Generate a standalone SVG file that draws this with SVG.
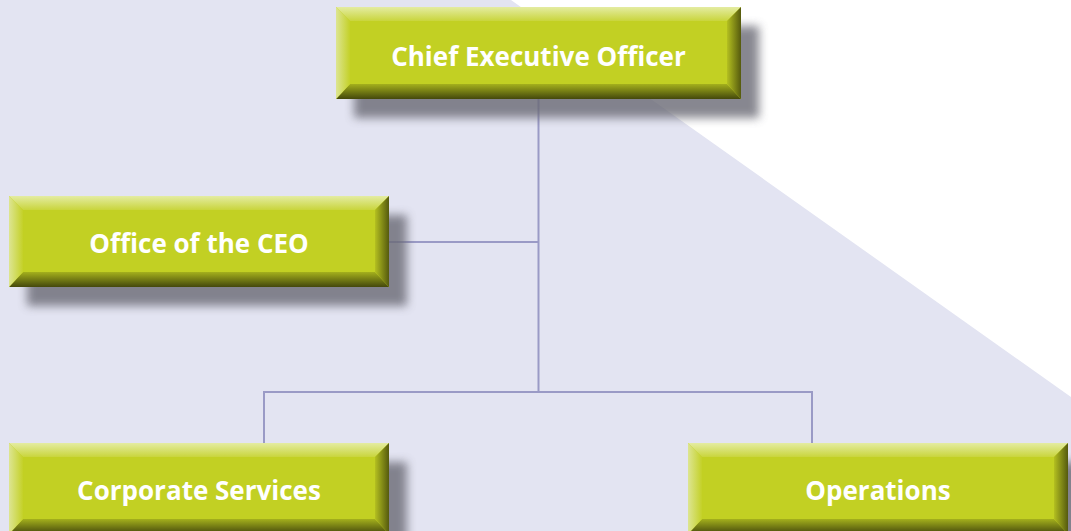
<svg xmlns="http://www.w3.org/2000/svg" width="1071" height="531" viewBox="0 0 1071 531">
<defs>
<filter id="blur" x="-10%" y="-30%" width="120%" height="160%"><feGaussianBlur stdDeviation="5"/></filter>
<linearGradient id="gTop" x1="0" y1="0" x2="0" y2="1"><stop offset="0" stop-color="#e4eca2"/><stop offset="1" stop-color="#c9d53c"/></linearGradient>
<linearGradient id="gBot" x1="0" y1="0" x2="0" y2="1"><stop offset="0" stop-color="#a4b01c"/><stop offset="1" stop-color="#44480c"/></linearGradient>
<linearGradient id="gLeft" x1="0" y1="0" x2="1" y2="0"><stop offset="0" stop-color="#dde592"/><stop offset="1" stop-color="#c4d128"/></linearGradient>
<linearGradient id="gRight" x1="0" y1="0" x2="1" y2="0"><stop offset="0" stop-color="#b4c020"/><stop offset="1" stop-color="#555a0e"/></linearGradient>
</defs>
<style>
.shadow{fill:#6a6a74;opacity:0.8;filter:url(#blur)}
.face{fill:#c2d023}
.t{fill:url(#gTop)}
.b{fill:url(#gBot)}
.l{fill:url(#gLeft)}
.r{fill:url(#gRight)}
.lbl{font-family:"Open Sans","Liberation Sans",sans-serif;font-weight:700;font-size:26px;fill:#ffffff;text-anchor:middle}
.conn{stroke:#9a9ac6;stroke-width:2;fill:none}
</style>
<rect width="1071" height="531" fill="#ffffff"/>
<polygon points="0,0 511,0 1071,397 1071,531 0,531" fill="#e3e4f2"/>
<g id="connectors">
<path class="conn" d="M538.5,99 V392 M389,242 H538.5 M264,443 V392 H812 V443"/>
</g>
<g id="ceo">
<rect class="shadow" x="354" y="26" width="405" height="92"/>
<rect class="face" x="336" y="7" width="405" height="92"/>
<polygon class="t" points="336,7 741,7 727,21 350,21"/>
<polygon class="b" points="336,99 741,99 727,84 350,84"/>
<polygon class="l" points="336,7 350,21 350,84 336,99"/>
<polygon class="r" points="741,7 727,21 727,84 741,99"/>
<text class="lbl" x="538.5" y="66">Chief Executive Officer</text>
</g>
<g id="office">
<rect class="shadow" x="27" y="215" width="380" height="91"/>
<rect class="face" x="9" y="196" width="380" height="91"/>
<polygon class="t" points="9,196 389,196 375,210 23,210"/>
<polygon class="b" points="9,287 389,287 375,272 23,272"/>
<polygon class="l" points="9,196 23,210 23,272 9,287"/>
<polygon class="r" points="389,196 375,210 375,272 389,287"/>
<text class="lbl" x="199" y="253">Office of the CEO</text>
</g>
<g id="corporate">
<rect class="shadow" x="27" y="462" width="380" height="91"/>
<rect class="face" x="9" y="443" width="380" height="91"/>
<polygon class="t" points="9,443 389,443 375,457 23,457"/>
<polygon class="b" points="9,534 389,534 375,519 23,519"/>
<polygon class="l" points="9,443 23,457 23,519 9,534"/>
<polygon class="r" points="389,443 375,457 375,519 389,534"/>
<text class="lbl" x="199" y="500">Corporate Services</text>
</g>
<g id="operations">
<rect class="shadow" x="706" y="462" width="380" height="91"/>
<rect class="face" x="688" y="443" width="380" height="91"/>
<polygon class="t" points="688,443 1068,443 1054,457 702,457"/>
<polygon class="b" points="688,534 1068,534 1054,519 702,519"/>
<polygon class="l" points="688,443 702,457 702,519 688,534"/>
<polygon class="r" points="1068,443 1054,457 1054,519 1068,534"/>
<text class="lbl" x="878" y="500">Operations</text>
</g>
</svg>
